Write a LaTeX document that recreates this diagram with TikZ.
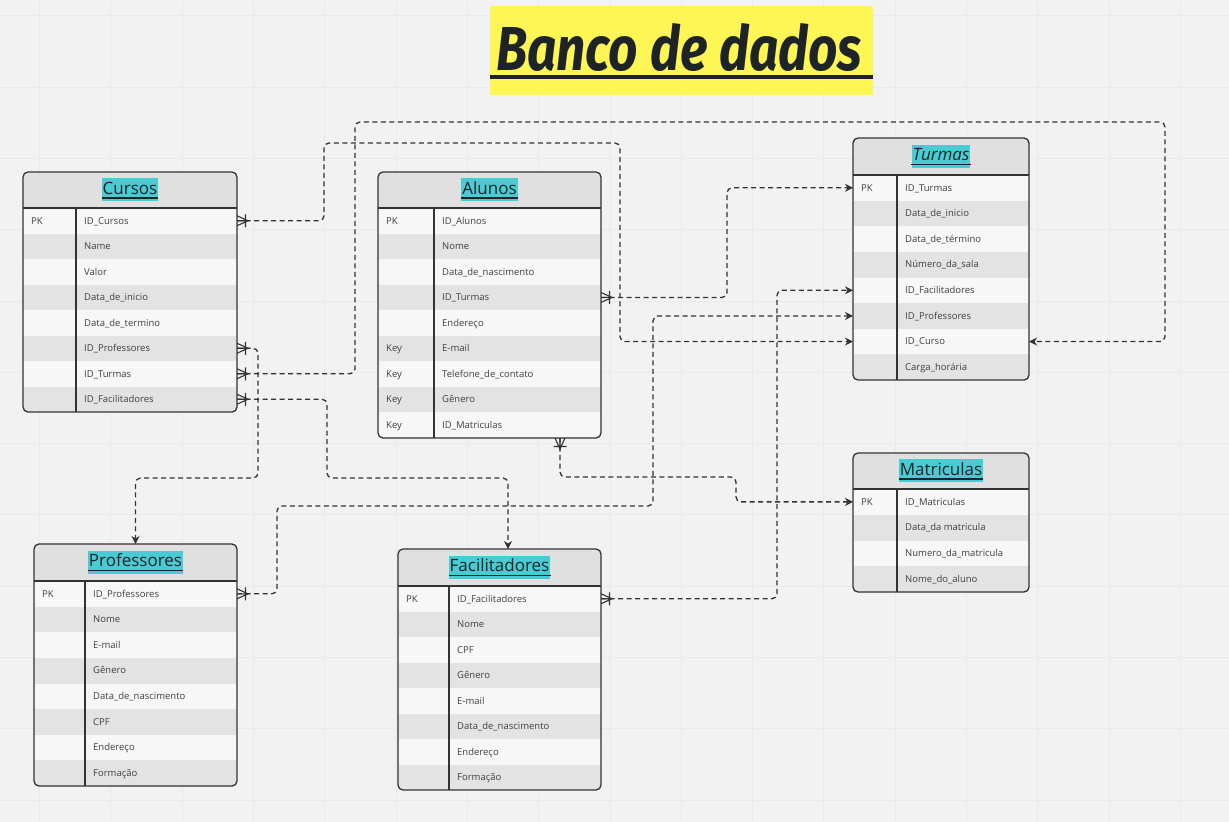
\documentclass[tikz,border=0pt]{standalone}
\usepackage{graphicx}
\usepackage{fontspec}
\setmainfont{Open Sans}
\newfontfamily\handfont{Fira Sans}
\usetikzlibrary{arrows.meta}
\definecolor{bgcol}{RGB}{242,242,242}
\definecolor{gridcol}{RGB}{233,233,233}
\definecolor{ink}{RGB}{51,51,51}
\definecolor{textcol}{RGB}{64,64,64}
\definecolor{headfill}{RGB}{224,224,224}
\definecolor{rowA}{RGB}{247,247,247}
\definecolor{rowB}{RGB}{227,227,227}
\definecolor{hlcyan}{RGB}{72,203,211}
\definecolor{titleink}{RGB}{30,36,38}
\definecolor{banneryellow}{RGB}{253,246,84}
\tikzset{
 conn/.style={draw=ink, line width=1.3pt, dash pattern=on 5pt off 3.5pt, rounded corners=5pt},
 arr/.style={-{Stealth[length=8pt,width=8pt,inset=2.5pt]}},
 rowbox/.style={inner sep=0, draw=none, outer sep=0},
 celltext/.style={inner sep=0, text=textcol, font=\fontsize{9.5}{11}\selectfont},
 tabtitle/.style={fill=hlcyan, text=titleink, inner xsep=1pt, inner ysep=3pt, text height=13pt, text depth=4pt, font=\fontsize{17}{20}\selectfont},
 tableframe/.style={draw=ink, line width=1.3pt, rounded corners=5pt, inner sep=0, outer sep=0},
 crowfoot/.pic={\draw[ink, line width=1.1pt, solid] (0,-5) -- (11,0) -- (0,5) (0,0) -- (12,0) (8.5,-6.5) -- (8.5,6.5);}
}
\newcommand\ertable[9]{%
 \foreach [count=\n] \x in {#9} {\xdef\ernrows{\n}}%
 \pgfmathsetmacro\errowh{(#5-#6)/\ernrows}%
 \begin{scope}
  \clip[rounded corners=5pt] (#2,#3) rectangle (#4,#5);
  \fill[headfill] (#2,#3) rectangle (#4,#6);
  \foreach [count=\i] \k/\f in {#9} {%
    \ifodd\i\relax\def\rc{rowA}\else\def\rc{rowB}\fi
    \pgfmathsetmacro\yc{#6+(\i-0.5)*\errowh}%
    \pgfmathsetmacro\yb{\yc+3.3}%
    \node[rowbox, fill=\rc, minimum width={#4-#2}, minimum height=\errowh, anchor=west] (#1-r\i) at (#2,\yc) {};
    \node[celltext, anchor=base west] (#1-k\i) at (#2+8,\yb) {\k};
    \node[celltext, anchor=base west] (#1-f\i) at (#7+8,\yb) {\f};
  }
 \end{scope}
 \node[tableframe, minimum width={#4-#2}, minimum height={#5-#3}, anchor=north west] (#1) at (#2,#3) {};
 \draw[ink, line width=1.3pt] (#2,#6) -- (#4,#6) (#7,#6) -- (#7,#5);
 \pgfmathsetmacro\tb{(#3+#6)/2+4}%
 \node[tabtitle, anchor=base] (#1-title) at ({(#2+#4)/2},\tb) {#8};
 \draw[titleink, line width=1.4pt] ([yshift=-4pt]#1-title.base west) -- ([yshift=-4pt]#1-title.base east);
}
\begin{document}
\begin{tikzpicture}[x=1pt,y=-1pt]
\useasboundingbox (0,0) rectangle (1229,822);
\fill[bgcol] (0,0) rectangle (1229,822);
\foreach \k in {0,...,16} {\draw[gridcol, line width=1pt] ({39.6+71.3*\k},0) -- ({39.6+71.3*\k},822);}
\foreach \k in {0,...,11} {\draw[gridcol, line width=1pt] (0,{15.8+71.3*\k}) -- (1229,{15.8+71.3*\k});}

% title banner
\node[fill=banneryellow, minimum width=383pt, minimum height=89pt, anchor=north west, inner sep=0] (banner) at (490,6) {};
\node[inner sep=0, anchor=base west, text=titleink] (bannertext) at (496,70) {\resizebox{366pt}{47pt}{\handfont\bfseries\itshape Banco de dados}};
\draw[titleink, line width=4pt] (490,77) -- (873,77);

% tables
\ertable{cursos}{23}{172}{237}{412}{208}{76}{Cursos}{PK/ID\_Cursos,{}/Name,{}/Valor,{}/Data\_de\_inicio,{}/Data\_de\_termino,{}/ID\_Professores,{}/ID\_Turmas,{}/ID\_Facilitadores}
\ertable{alunos}{378}{172}{601}{438}{208}{434}{Alunos}{PK/ID\_Alunos,{}/Nome,{}/Data\_de\_nascimento,{}/ID\_Turmas,{}/Endereço,Key/E-mail,Key/Telefone\_de\_contato,Key/Gênero,Key/ID\_Matriculas}
\ertable{turmas}{853}{138}{1029}{380}{175}{897}{\textit{Turmas}}{PK/ID\_Turmas,{}/Data\_de\_inicio,{}/Data\_de\_término,{}/Número\_da\_sala,{}/ID\_Facilitadores,{}/ID\_Professores,{}/ID\_Curso,{}/Carga\_horária}
\ertable{matriculas}{853}{453}{1029}{592}{489}{897}{Matriculas}{PK/ID\_Matriculas,{}/Data\_da matricula,{}/Numero\_da\_matricula,{}/Nome\_do\_aluno}
\ertable{professores}{34}{544}{237}{786}{581}{85}{Professores}{PK/ID\_Professores,{}/Nome,{}/E-mail,{}/Gênero,{}/Data\_de\_nascimento,{}/CPF,{}/Endereço,{}/Formação}
\ertable{facilitadores}{398}{549}{601}{790}{586}{449}{Facilitadores}{PK/ID\_Facilitadores,{}/Nome,{}/CPF,{}/Gênero,{}/E-mail,{}/Data\_de\_nascimento,{}/Endereço,{}/Formação}

% connectors
\coordinate (alunosfoot) at ([xshift=70.5pt]alunos.south);
\draw[conn, arr] (cursos-r1.east) -- ++(87,0) |- (620,143) |- (turmas-r7.west);
\draw[conn, arr] (cursos-r7.east) -- ++(118,0) |- (1165,122) |- (turmas-r7.east);
\draw[conn, arr] (cursos-r6.east) -- ++(21,0) |- ([yshift=66pt]professores.north) -- (professores.north);
\draw[conn, arr] (cursos-r8.east) -- ++(90,0) |- ([xshift=8.5pt,yshift=71pt]facilitadores.north) -- ([xshift=8.5pt]facilitadores.north);
\draw[conn, arr] (alunos-r4.east) -- ++(126,0) |- (turmas-r1.west);
\draw[conn, arr] (alunosfoot) -- ++(0,39) -| ([xshift=-117pt]matriculas-r1.west) -- (matriculas-r1.west);
\draw[conn, arr] (professores-r1.east) -- ++(40,0) |- (653,506) |- (turmas-r6.west);
\draw[conn, arr] (facilitadores-r1.east) -- ++(176,0) |- (turmas-r5.west);

% crow's feet
\pic at (cursos-r1.east) {crowfoot};
\pic at (cursos-r6.east) {crowfoot};
\pic at (cursos-r7.east) {crowfoot};
\pic at (cursos-r8.east) {crowfoot};
\pic at (alunos-r4.east) {crowfoot};
\pic at (professores-r1.east) {crowfoot};
\pic at (facilitadores-r1.east) {crowfoot};
\pic[rotate=-90] at (alunosfoot) {crowfoot};
\end{tikzpicture}
\end{document}
